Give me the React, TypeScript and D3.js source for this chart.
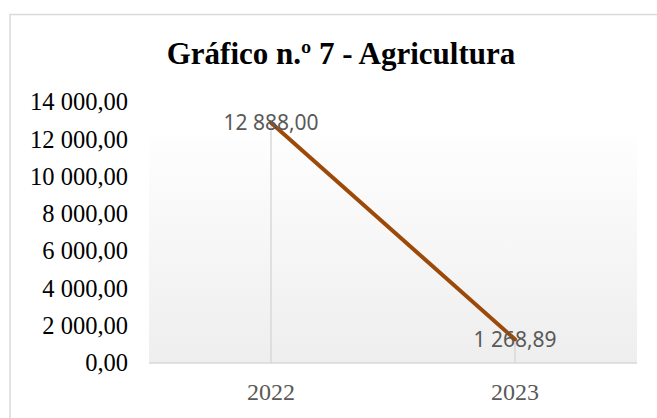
import React from "react";
import * as d3 from "d3";

const categories = ["2022", "2023"];
const values = [12888.0, 1268.89];
const yTicks = [0, 2000, 4000, 6000, 8000, 10000, 12000, 14000];
const title = "Gráfico n.º 7 - Agricultura";

const W = 657;
const H = 418;

function fmt(v: number): string {
  const fixed = v.toFixed(2);
  const [intPart, dec] = fixed.split(".");
  const withSpaces = intPart.replace(/\B(?=(\d{3})+(?!\d))/g, " ");
  return `${withSpaces},${dec}`;
}

export default function App() {
  const plotLeft = 149;
  const plotRight = 637;
  const plotTop = 137;
  const axisY = 363;

  const x = d3.scaleBand<string>().domain(categories).range([plotLeft, plotRight]);
  const y = d3.scaleLinear().domain([0, 14000]).range([axisY, 102]);

  const pts: [number, number][] = categories.map((c, i) => [
    (x(c) as number) + x.bandwidth() / 2,
    y(values[i]),
  ]);
  const line = d3.line()(pts) as string;

  return (
    <svg
      width={W}
      height={H}
      style={{ position: "absolute", left: 0, top: 0, display: "block" }}
    >
      <defs>
        <linearGradient id="pa" x1="0" y1="0" x2="0" y2="1">
          <stop offset="0%" stopColor="#fefefe" />
          <stop offset="100%" stopColor="#eeeeee" />
        </linearGradient>
      </defs>
      <rect x={0} y={0} width={W} height={H} fill="#ffffff" />
      <rect
        x={10}
        y={14.5}
        width={W + 20}
        height={H + 20}
        fill="#ffffff"
        stroke="#d9d9d9"
        strokeWidth={1.5}
      />
      <text
        x={341}
        y={64}
        textAnchor="middle"
        fontFamily="'Liberation Serif', 'Times New Roman', serif"
        fontWeight="bold"
        fontSize={31}
        fill="#000000"
      >
        {title}
      </text>
      <rect
        x={plotLeft}
        y={plotTop}
        width={plotRight - plotLeft}
        height={axisY - plotTop}
        fill="url(#pa)"
      />
      {pts.map((p, i) => (
        <line
          key={"d" + i}
          x1={p[0]}
          x2={p[0]}
          y1={p[1]}
          y2={axisY}
          stroke="#d9d9d9"
          strokeWidth={1.5}
        />
      ))}
      <line
        x1={plotLeft}
        x2={plotRight}
        y1={axisY}
        y2={axisY}
        stroke="#d9d9d9"
        strokeWidth={1.5}
      />
      {yTicks.map((t) => (
        <text
          key={t}
          x={128}
          y={y(t)}
          dy="0.34em"
          textAnchor="end"
          fontFamily="'Liberation Serif', 'Times New Roman', serif"
          fontSize={24.5}
          fill="#000000"
        >
          {fmt(t)}
        </text>
      ))}
      {categories.map((c) => (
        <text
          key={c}
          x={(x(c) as number) + x.bandwidth() / 2}
          y={400}
          textAnchor="middle"
          fontFamily="'Liberation Serif', 'Times New Roman', serif"
          fontSize={24}
          fill="#595959"
        >
          {c}
        </text>
      ))}
      <path d={line} fill="none" stroke="#9c4a0a" strokeWidth={4} strokeLinecap="round" />
      {pts.map((p, i) => (
        <text
          key={"l" + i}
          x={p[0]}
          y={p[1]}
          dy="0.36em"
          textAnchor="middle"
          fontFamily="'Noto Sans', sans-serif"
          fontSize={21}
          fill="#595959"
        >
          {fmt(values[i])}
        </text>
      ))}
    </svg>
  );
}
